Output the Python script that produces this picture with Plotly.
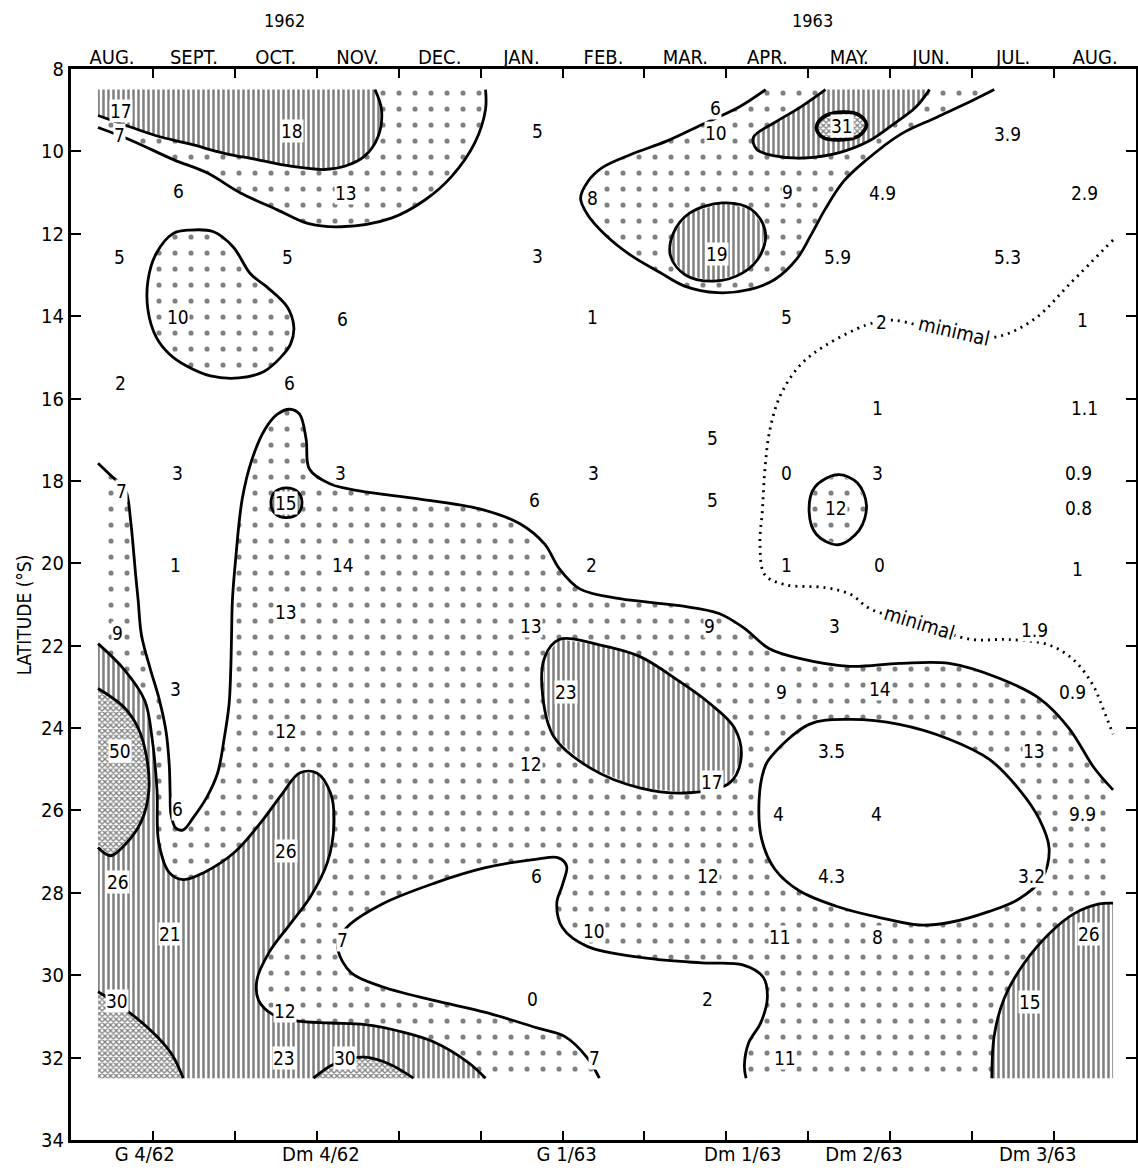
import plotly.graph_objects as go

FONT = "DejaVu Sans Condensed, DejaVu Sans, Liberation Sans, sans-serif"

# ---------------- axes / tick data ----------------
MONTHS = ["AUG.", "SEPT.", "OCT.", "NOV.", "DEC.", "JAN.", "FEB.", "MAR.", "APR.", "MAY.", "JUN.", "JUL.", "AUG."]
MONTH_POS = [0.5, 1.5, 2.5, 3.5, 4.5, 5.5, 6.5, 7.5, 8.5, 9.5, 10.5, 11.5, 12.5]
MONTH_TICKS = [1, 2, 3, 4, 5, 6, 7, 8, 9, 10, 11, 12]
CRUISES = ["G 4/62", "Dm 4/62", "G 1/63", "Dm 1/63", "Dm 2/63", "Dm 3/63"]
CRUISE_POS = [0.90, 3.05, 6.05, 8.20, 9.68, 11.80]
LAT_TICKS = [8, 10, 12, 14, 16, 18, 20, 22, 24, 26, 28, 30, 32, 34]
YEARS = ["1962", "1963"]
YEAR_POS = [2.6, 9.05]

# extent of the sampled area (months since 1 Aug 1962, latitude S)
X0, X1, Y0, Y1 = 0.33, 12.72, 8.5, 32.5

# ---------------- contour outlines (month, latitude) ----------------
A_LINE = [(0.33, 9.13), (0.63, 9.34), (1.04, 9.62), (1.45, 9.82), (1.86, 10.04), (2.27, 10.2),
          (2.68, 10.36), (3.09, 10.44), (3.34, 10.36), (3.58, 10.12), (3.75, 9.63), (3.79, 8.98), (3.71, 8.5)]
B_LINE = [(0.33, 9.42), (0.71, 9.71), (1.25, 10.2), (1.66, 10.52), (2.07, 11.01), (2.52, 11.42),
          (2.89, 11.75), (3.30, 11.83), (3.91, 11.62), (4.32, 11.18), (4.65, 10.6), (4.93, 9.79),
          (5.06, 8.98), (5.06, 8.5)]
C_LINE = [(1.45, 11.91), (1.74, 11.95), (1.98, 12.32), (2.19, 12.97), (2.39, 13.29), (2.64, 13.78),
          (2.72, 14.27), (2.68, 14.68), (2.56, 15.0), (2.35, 15.35), (2.05, 15.5), (1.7, 15.45),
          (1.4, 15.2), (1.2, 14.92), (1.04, 14.51), (0.94, 13.86), (0.94, 13.13), (1.04, 12.48), (1.25, 11.99)]
D_LINE = [(8.48, 8.5), (8.15, 8.93), (7.71, 9.34), (7.27, 9.75), (6.84, 10.07), (6.48, 10.40),
          (6.31, 10.73), (6.22, 11.14), (6.31, 11.55), (6.53, 12.04), (6.84, 12.53), (7.19, 12.94),
          (7.49, 13.27), (7.89, 13.43), (8.29, 13.35), (8.59, 13.11), (8.86, 12.61), (9.03, 12.04),
          (9.21, 11.39), (9.43, 10.73), (9.69, 10.24), (10.13, 9.58), (10.57, 9.17), (11.01, 8.76), (11.27, 8.5)]
E_LINE = [(9.21, 8.5), (8.90, 8.93), (8.59, 9.30), (8.33, 9.66), (8.37, 9.95), (8.59, 10.11),
          (8.95, 10.16), (9.38, 10.03), (9.74, 9.75), (10.04, 9.34), (10.31, 8.93), (10.48, 8.5)]
F_LINE = [(9.41, 9.05), (9.62, 9.12), (9.71, 9.35), (9.62, 9.62), (9.38, 9.72), (9.17, 9.65), (9.10, 9.42), (9.18, 9.17)]
G_LINE = [(7.95, 11.25), (8.3, 11.4), (8.47, 11.9), (8.42, 12.5), (8.2, 12.95), (7.85, 13.15),
          (7.5, 13.0), (7.32, 12.55), (7.35, 12.0), (7.55, 11.5)]
WU_LINE = [(0.33, 17.57), (0.51, 17.91), (0.62, 18.1), (0.68, 18.3), (0.73, 19.0), (0.79, 20.3),
           (0.82, 20.90), (0.86, 21.74), (0.97, 22.58), (1.07, 23.25), (1.16, 24.08), (1.20, 24.92),
           (1.21, 25.59), (1.22, 26.09), (1.28, 26.43), (1.37, 26.47), (1.49, 26.18), (1.66, 25.67),
           (1.79, 25.09), (1.87, 24.25), (1.93, 23.41), (1.95, 22.58), (1.96, 21.74), (1.97, 20.9),
           (2.01, 19.89), (2.09, 18.44), (2.21, 17.47), (2.37, 16.74), (2.52, 16.38), (2.67, 16.26),
           (2.79, 16.38), (2.87, 16.99), (2.91, 17.71), (3.16, 18.07), (3.52, 18.24), (4.26, 18.44),
           (4.99, 18.68), (5.48, 19.04), (5.78, 19.53), (5.96, 20.13), (6.21, 20.62), (6.70, 20.86),
           (7.43, 21.03), (7.91, 21.22), (8.22, 21.58), (8.52, 22.07), (8.89, 22.31), (9.50, 22.50),
           (10.11, 22.43), (10.72, 22.43), (11.33, 22.79), (11.82, 23.28), (12.18, 24.00), (12.49, 24.97),
           (12.72, 25.5)]
I_LINE = [(0.33, 21.95), (0.65, 22.58), (0.90, 23.33), (0.99, 24.25), (1.05, 25.51), (1.07, 26.76),
          (1.20, 27.51), (1.37, 27.68), (1.62, 27.51), (2.0, 27.01), (2.33, 26.26), (2.58, 25.59),
          (2.79, 25.09), (3.0, 25.09), (3.17, 25.59), (3.21, 26.34), (3.13, 27.26), (2.92, 28.10),
          (2.67, 28.77), (2.42, 29.44), (2.27, 30.11), (2.29, 30.61), (2.46, 30.95), (2.75, 31.11),
          (3.17, 31.16), (3.59, 31.20), (4.01, 31.36), (4.43, 31.62), (4.85, 32.12), (5.06, 32.5)]
X50_LINE = [(0.33, 23.04), (0.65, 23.50), (0.82, 24.0), (0.92, 24.67), (0.95, 25.51), (0.86, 26.26),
            (0.65, 26.85), (0.48, 27.10), (0.33, 26.9)]
X30A_LINE = [(0.33, 30.40), (0.71, 30.90), (1.07, 31.53), (1.24, 31.95), (1.37, 32.5)]
X30B_LINE = [(2.96, 32.5), (3.17, 32.2), (3.38, 32.03), (3.59, 31.99), (3.89, 32.16), (4.18, 32.5)]
W0_LINE = [(6.45, 32.5), (6.3, 32.0), (6.03, 31.49), (5.69, 31.28), (5.06, 30.90), (4.43, 30.61),
           (3.80, 30.28), (3.42, 29.94), (3.26, 29.40), (3.28, 29.1), (3.38, 28.81), (3.80, 28.27),
           (4.43, 27.77), (5.06, 27.39), (5.69, 27.18), (5.95, 27.15), (6.05, 27.35), (6.0, 27.8),
           (5.93, 28.25), (6.0, 28.85), (6.3, 29.3), (7.0, 29.58), (7.7, 29.7), (8.2, 29.75),
           (8.45, 30.05), (8.5, 30.55), (8.42, 31.15), (8.27, 31.65), (8.22, 32.2), (8.24, 32.5)]
J_LINE = [(5.96, 21.85), (6.45, 21.98), (6.94, 22.26), (7.43, 22.87), (7.79, 23.39), (8.10, 24.0),
          (8.18, 24.72), (8.04, 25.33), (7.55, 25.57), (6.94, 25.45), (6.33, 24.96), (5.90, 24.23),
          (5.76, 23.26), (5.78, 22.29)]
K_LINE = [(8.52, 24.76), (9.01, 23.91), (9.50, 23.79), (10.11, 23.91), (10.72, 24.27), (11.21, 24.76),
          (11.57, 25.48), (11.82, 26.21), (11.94, 26.93), (11.85, 27.66), (11.57, 28.15), (11.21, 28.45),
          (10.72, 28.72), (10.35, 28.78), (9.87, 28.6), (9.38, 28.35), (8.89, 27.95), (8.59, 27.42),
          (8.43, 26.69), (8.40, 25.72), (8.46, 25.0)]
R_LINE = [(11.24, 32.5), (11.27, 31.46), (11.39, 30.57), (11.63, 29.72), (11.94, 28.99),
          (12.24, 28.51), (12.55, 28.27), (12.72, 28.25)]
C15_LINE = [(2.63, 18.17), (2.77, 18.27), (2.82, 18.53), (2.77, 18.79), (2.63, 18.89), (2.49, 18.79), (2.44, 18.53), (2.49, 18.27)]
C12_LINE = [(9.36, 17.85), (9.6, 18.05), (9.71, 18.6), (9.62, 19.2), (9.36, 19.55), (9.1, 19.3), (9.01, 18.75), (9.08, 18.15)]
MINIMAL_LINE = [(12.72, 12.15), (12.2, 13.2), (11.76, 14.07), (11.3, 14.5), (10.8, 14.42), (10.35, 14.22),
                (10.05, 14.1), (9.89, 14.13), (9.70, 14.22), (9.21, 14.71), (8.90, 15.19), (8.66, 15.92),
                (8.53, 16.77), (8.47, 17.73), (8.44, 18.70), (8.41, 19.55), (8.47, 20.28), (8.72, 20.52),
                (9.21, 20.59), (9.52, 20.76), (9.75, 21.1), (10.38, 21.49), (11.0, 21.85), (11.43, 21.85),
                (11.92, 21.97), (12.23, 22.33), (12.47, 22.94), (12.6, 23.54), (12.72, 24.15)]

# ---------------- observed values ----------------
VAL_TEXT = ["17", "7", "18", "6", "13", "5", "5", "10", "6", "5", "3",
            "6", "10", "31", "3.9", "8", "9", "4.9", "2.9", "19", "5.9", "5.3", "1", "5", "2", "1",
            "2", "6", "3", "3", "3", "0", "3", "0.9", "5", "1", "1.1", "7", "15", "6", "5", "12", "0.8",
            "1", "14", "2", "1", "0", "1", "13", "9", "13", "9", "3", "1.9", "3", "23", "9", "14", "0.9",
            "50", "12", "3.5", "13", "17", "12", "6", "4", "4", "9.9", "26", "26", "6", "12", "4.3", "3.2",
            "21", "7", "10", "11", "8", "26", "30", "12", "0", "2", "15", "23", "30", "7", "11"]
VAL_X = [0.61, 0.59, 2.70, 1.31, 3.36, 0.59, 2.64, 1.31, 3.32, 5.70, 5.70,
         7.87, 7.87, 9.41, 11.43, 6.37, 8.75, 9.91, 12.37, 7.89, 9.36, 11.43, 6.37, 8.73, 9.89, 12.35,
         0.60, 2.67, 1.30, 3.29, 6.38, 8.73, 9.84, 12.30, 7.83, 9.84, 12.37, 0.62, 2.63, 5.66, 7.83, 9.34, 12.30,
         1.28, 3.32, 6.35, 8.73, 9.87, 12.28, 2.63, 0.57, 5.61, 7.79, 9.32, 11.76, 1.28, 6.04, 8.67, 9.87, 12.22,
         0.60, 2.63, 9.28, 11.76, 7.82, 5.61, 1.30, 8.63, 9.83, 12.35, 2.63, 0.57, 5.68, 7.77, 9.28, 11.72,
         1.21, 3.32, 6.38, 8.66, 9.84, 12.43, 0.56, 2.61, 5.63, 7.77, 11.70, 2.60, 3.35, 6.39, 8.71]
VAL_Y = [9.02, 9.61, 9.51, 10.97, 11.01, 12.56, 12.56, 14.03, 14.07, 9.50, 12.53,
         8.94, 9.56, 9.38, 9.58, 11.14, 10.98, 11.02, 11.02, 12.49, 12.57, 12.57, 14.01, 14.01, 14.13, 14.09,
         15.63, 15.63, 17.81, 17.81, 17.81, 17.81, 17.81, 17.81, 16.96, 16.23, 16.23, 18.25, 18.53, 18.46, 18.46, 18.65, 18.65,
         20.03, 20.03, 20.03, 20.03, 20.03, 20.15, 21.17, 21.70, 21.53, 21.53, 21.53, 21.61, 23.06, 23.13, 23.13, 23.06, 23.13,
         24.56, 24.08, 24.56, 24.56, 25.31, 24.88, 25.96, 26.09, 26.09, 26.09, 26.98, 27.73, 27.59, 27.59, 27.59, 27.59,
         28.99, 29.15, 28.92, 29.07, 29.07, 28.99, 30.62, 30.86, 30.57, 30.57, 30.64, 32.02, 32.02, 32.02, 32.02]

MINIMAL_TEXT = ["minimal", "minimal"]
MINIMAL_X = [10.78, 10.36]
MINIMAL_Y = [14.36, 21.46]
MINIMAL_ANGLE = [13, 17]

# ---------------- fill styles ----------------
STIPPLE = dict(shape=".", size=16, solidity=0.08, fgcolor="black", bgcolor="white")
HATCH = dict(shape="|", size=5, solidity=0.5, fgcolor="black", bgcolor="white")
CROSS = dict(shape="x", size=4, solidity=0.55, fgcolor="black", bgcolor="white")

fig = go.Figure()


def xy(pts):
    return [p[0] for p in pts], [p[1] for p in pts]


def add_fill(pts, pattern=None):
    x, y = xy(pts + [pts[0]])
    kw = dict(x=x, y=y, mode="none", fill="toself", fillcolor="white",
              hoverinfo="skip", showlegend=False)
    if pattern is not None:
        kw["fillpattern"] = pattern
    fig.add_trace(go.Scatter(**kw))


def add_line(pts, closed=False, width=2.8, dash=None):
    p = pts + [pts[0]] if closed else pts
    x, y = xy(p)
    line = dict(color="black", width=width, shape="spline", smoothing=1.0)
    if dash:
        line["dash"] = dash
    fig.add_trace(go.Scatter(x=x, y=y, mode="lines", line=line, hoverinfo="skip", showlegend=False))


# stippled areas
add_fill(B_LINE + [(X0, Y0)], STIPPLE)
add_fill(C_LINE, STIPPLE)
add_fill(D_LINE, STIPPLE)
add_fill(WU_LINE + [(X1, Y1), (X0, Y1)], STIPPLE)
add_fill(C12_LINE, STIPPLE)
# clear areas inside the stipple
add_fill(W0_LINE)
add_fill(K_LINE)
# hatched areas
add_fill(A_LINE + [(X0, Y0)], HATCH)
add_fill(E_LINE, HATCH)
add_fill(G_LINE, HATCH)
add_fill(I_LINE + [(X0, Y1)], HATCH)
add_fill(J_LINE, HATCH)
add_fill(R_LINE + [(X1, Y1)], HATCH)
add_fill(C15_LINE, HATCH)
# cross-hatched areas
add_fill(F_LINE, CROSS)
add_fill(X50_LINE, CROSS)
add_fill(X30A_LINE + [(X0, Y1)], CROSS)
add_fill(X30B_LINE, CROSS)

# contour lines
for ln in [A_LINE, B_LINE, D_LINE, E_LINE, WU_LINE, I_LINE, X50_LINE, X30A_LINE, X30B_LINE, W0_LINE, R_LINE]:
    add_line(ln)
for ln in [C_LINE, G_LINE, J_LINE, K_LINE, C15_LINE, C12_LINE]:
    add_line(ln, closed=True)
add_line(F_LINE, closed=True, width=3.8)
add_line(MINIMAL_LINE, width=2.8, dash="2px,5px")

# dummy traces so that the extra label axes are drawn
fig.add_trace(go.Scatter(x=[MONTH_POS[0]], y=[LAT_TICKS[-1]], xaxis="x2", mode="markers",
                         marker=dict(opacity=0), hoverinfo="skip", showlegend=False))
fig.add_trace(go.Scatter(x=[CRUISE_POS[0]], y=[LAT_TICKS[-1]], xaxis="x3", mode="markers",
                         marker=dict(opacity=0), hoverinfo="skip", showlegend=False))

annotations = []
for t, x, y in zip(VAL_TEXT, VAL_X, VAL_Y):
    annotations.append(dict(x=x, y=y, xref="x", yref="y", text=t, showarrow=False,
                            font=dict(family=FONT, size=19, color="black"),
                            bgcolor="white", borderpad=0))
for t, x, y, a in zip(MINIMAL_TEXT, MINIMAL_X, MINIMAL_Y, MINIMAL_ANGLE):
    annotations.append(dict(x=x, y=y, xref="x", yref="y", text=t, showarrow=False, textangle=a,
                            font=dict(family=FONT, size=20, color="black"),
                            bgcolor="white", borderpad=0))
for t, x in zip(YEARS, YEAR_POS):
    annotations.append(dict(x=x, y=1.045, xref="x", yref="paper", text=t, showarrow=False,
                            yanchor="middle", xanchor="center",
                            font=dict(family=FONT, size=18, color="black")))
annotations.append(dict(x=-0.044, y=0.49, xref="paper", yref="paper", text="LATITUDE (°S)",
                        showarrow=False, textangle=-90, xanchor="center", yanchor="middle",
                        font=dict(family=FONT, size=19, color="black")))

axis_common = dict(range=[0, 13], showgrid=False, zeroline=False)

fig.update_layout(
    width=1138, height=1168,
    margin=dict(l=71, r=2, t=69, b=28, autoexpand=False),
    paper_bgcolor="white", plot_bgcolor="white",
    showlegend=False,
    xaxis=dict(**axis_common, tickvals=MONTH_TICKS, ticks="inside", ticklen=9, tickwidth=2,
               tickcolor="black", showticklabels=False, showline=True, linewidth=3,
               linecolor="black", mirror="ticks"),
    xaxis2=dict(**axis_common, overlaying="x", side="top", anchor="y", tickvals=MONTH_POS,
                ticktext=MONTHS, ticks="", showline=False,
                tickfont=dict(family=FONT, size=20, color="black")),
    xaxis3=dict(**axis_common, overlaying="x", side="bottom", anchor="y", tickvals=CRUISE_POS,
                ticktext=CRUISES, ticks="", showline=False,
                tickfont=dict(family=FONT, size=20, color="black")),
    yaxis=dict(range=[34, 8], tickvals=LAT_TICKS, ticks="inside", ticklen=10, tickwidth=2,
               tickcolor="black", showline=True, linewidth=3, linecolor="black", mirror="ticks",
               showgrid=False, zeroline=False,
               tickfont=dict(family=FONT, size=20, color="black")),
    annotations=annotations,
)

fig.write_html("out.html")
